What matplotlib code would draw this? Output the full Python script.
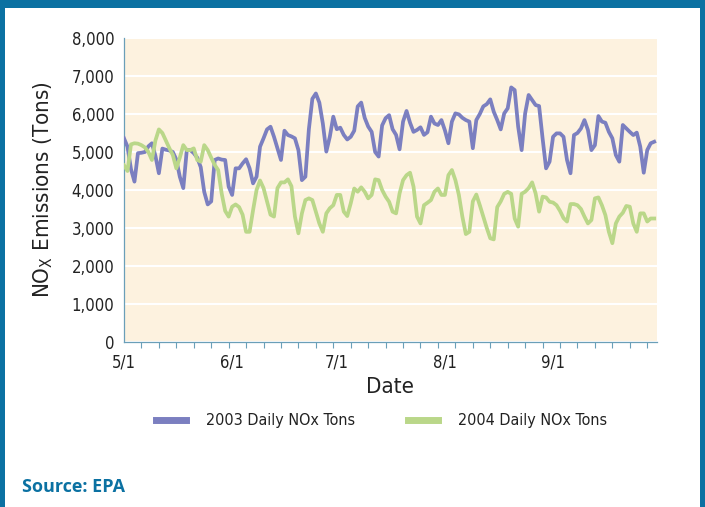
import matplotlib
matplotlib.use("Agg")
import matplotlib.pyplot as plt
from matplotlib.patches import Rectangle
from matplotlib import font_manager

# daily NOx tons, 5/1 .. 9/30
nox_2003 = [5360, 5140, 4550, 4220, 4970, 4980, 5000, 5150, 5230, 4900,
            4440, 5090, 5060, 5040, 5000, 4800, 4350, 4050, 5050, 5050,
            4970, 4850, 4600, 3950, 3620, 3700, 4790, 4830, 4800, 4790,
            4090, 3870, 4570, 4570, 4700, 4810, 4570, 4175, 4350, 5140,
            5360, 5595, 5665, 5400, 5095, 4790, 5560, 5446, 5410, 5360,
            5050, 4260, 4350, 5600, 6400, 6540, 6300, 5750, 5010, 5400,
            5930, 5600, 5640, 5450, 5330, 5400, 5560, 6200, 6300, 5900,
            5670, 5530, 5000, 4880, 5700, 5890, 5970, 5600, 5450, 5070,
            5800, 6080, 5770, 5530, 5580, 5650, 5450, 5520, 5930, 5750,
            5710, 5840, 5570, 5230, 5800, 6016, 5990, 5900, 5840, 5800,
            5100, 5840, 6000, 6200, 6260, 6385, 6060, 5840, 5595, 6016,
            6150, 6700, 6630, 5665, 5050, 6016, 6500, 6370, 6235, 6210,
            5360, 4570, 4745, 5400, 5490, 5490, 5400, 4790, 4440, 5446,
            5500, 5620, 5840, 5580, 5050, 5180, 5945, 5800, 5770, 5530,
            5360, 4920, 4745, 5710, 5620, 5530, 5446, 5510, 5140, 4455,
            5050, 5230, 5270]

nox_2004 = [4650, 4500, 5200, 5230, 5220, 5180, 5120, 5000, 4790, 5300,
            5595, 5500, 5300, 5100, 4920, 4570, 4850, 5180, 5050, 5050,
            5095, 4790, 4745, 5180, 5050, 4850, 4660, 4525, 3910, 3450,
            3300, 3560, 3620, 3550, 3350, 2900, 2900, 3470, 4000, 4250,
            4050, 3700, 3350, 3300, 4050, 4200, 4200, 4280, 4100, 3300,
            2860, 3385, 3735, 3780, 3735, 3430, 3120, 2900, 3385, 3520,
            3600, 3870, 3870, 3430, 3315, 3650, 4040, 3955, 4070, 3955,
            3780, 3870, 4280, 4260, 4000, 3825, 3690, 3430, 3385, 3910,
            4260, 4390, 4455, 4087, 3300, 3120, 3600, 3665, 3735, 3955,
            4040, 3870, 3870, 4390, 4525, 4260, 3870, 3300, 2840, 2900,
            3700, 3880, 3600, 3300, 3000, 2730, 2700, 3550, 3700, 3900,
            3950, 3900, 3250, 3035, 3900, 3955, 4050, 4200, 3910, 3430,
            3825, 3805, 3690, 3670, 3600, 3450, 3260, 3170, 3630, 3630,
            3600, 3500, 3300, 3120, 3210, 3780, 3805, 3600, 3340, 2900,
            2600, 3120, 3300, 3400, 3580, 3560, 3120, 2900, 3385, 3385,
            3170, 3250, 3250]

month_pos = [0, 31, 61, 92, 123]
month_labels = ["5/1", "6/1", "7/1", "8/1", "9/1"]
y_ticks = [0, 1000, 2000, 3000, 4000, 5000, 6000, 7000, 8000]

teal = "#0b71a2"
blue = "#7b7fc0"
green = "#bad789"
txt = "#222222"
# condensed face for the axis text
fp = font_manager.FontProperties(family="DejaVu Sans", stretch="condensed", size=12)
fp_big = font_manager.FontProperties(family="DejaVu Sans", stretch="condensed", size=16)
fp_leg = font_manager.FontProperties(family="DejaVu Sans", stretch="condensed", size=11.5)

fig = plt.figure(figsize=(7.05, 5.07), dpi=100)
fig.patch.set_facecolor("white")

# frame around the figure
fig.patches.append(Rectangle((0, 1 - 8 / 507), 1, 8 / 507, transform=fig.transFigure,
                             facecolor=teal, edgecolor="none"))
fig.patches.append(Rectangle((0, 0), 5 / 705, 1, transform=fig.transFigure,
                             facecolor=teal, edgecolor="none"))
fig.patches.append(Rectangle((1 - 5 / 705, 0), 5 / 705, 1, transform=fig.transFigure,
                             facecolor=teal, edgecolor="none"))

ax = fig.add_axes([124 / 705, 1 - 342 / 507, 533 / 705, 304 / 507])
ax.set_facecolor("#fdf2df")

days = list(range(len(nox_2003)))
ax.plot(days, nox_2003, color=blue, lw=2.7, label="2003 Daily NOx Tons", zorder=3)
ax.plot(days, nox_2004, color=green, lw=2.7, label="2004 Daily NOx Tons", zorder=3)

ax.set_xlim(0, 152.8)
ax.set_ylim(0, 8000)
ax.set_yticks(y_ticks)
ax.set_yticklabels([f"{v:,}" for v in y_ticks], fontproperties=fp, color=txt)
ax.grid(axis="y", color="white", lw=1.5, zorder=1)
ax.set_axisbelow(True)

ax.set_xticks(month_pos)
ax.set_xticklabels(month_labels, fontproperties=fp, color=txt)
ax.set_xticks(range(0, 153, 5), minor=True)
ax.tick_params(axis="x", which="major", length=0, pad=8)
ax.tick_params(axis="x", which="minor", length=4, color="#6a9fb8", width=0.8)
ax.tick_params(axis="y", length=0, pad=7)

for s in ["top", "right"]:
    ax.spines[s].set_visible(False)
for s in ["left", "bottom"]:
    ax.spines[s].set_color("#6a9fb8")
    ax.spines[s].set_linewidth(0.9)

ax.set_xlabel("Date", fontproperties=fp_big, color=txt, labelpad=4)
ax.set_ylabel(r"NO$_\mathregular{X}$ Emissions (Tons)", fontproperties=fp_big,
              color=txt, labelpad=12)

leg = fig.legend(loc="center", bbox_to_anchor=(0.541, 1 - 421 / 507), ncol=2,
                 frameon=False, handlelength=1.9, columnspacing=3.3, handletextpad=1.25,
                 prop=fp_leg)
for h in leg.get_lines():
    h.set_linewidth(5)
for t in leg.get_texts():
    t.set_color(txt)

fig.text(22 / 705, 1 - 487 / 507, "Source: EPA", color=teal, fontsize=13,
         fontweight="bold", family=["Open Sans", "DejaVu Sans"], va="center", ha="left")

fig.savefig("out.png", dpi=100)
